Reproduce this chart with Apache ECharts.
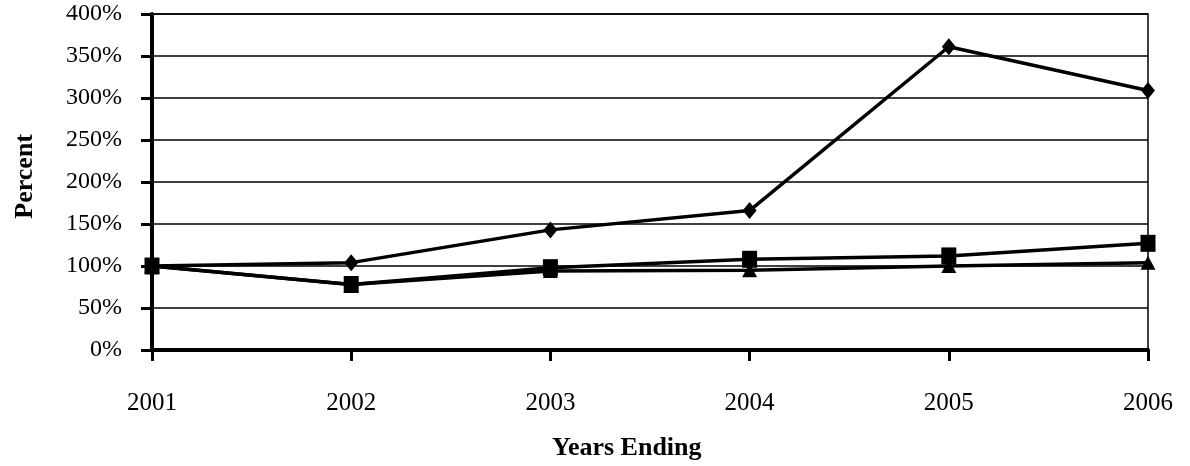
<!DOCTYPE html>
<html>
<head>
<meta charset="utf-8">
<script src="https://cdn.jsdelivr.net/npm/echarts@6/dist/echarts.min.js"></script>
<style>
html,body{margin:0;padding:0;background:#fff;}
#chart{width:1190px;height:466px;}
</style>
</head>
<body>
<div id="chart"></div>
<script>
var years = ['2001', '2002', '2003', '2004', '2005', '2006'];
var diamondSeries = [100, 104, 143, 166, 361, 309];
var squareSeries = [100, 78, 98, 108, 112, 127];
var triangleSeries = [100, 78, 94, 95, 100, 104];
var yTicks = [0, 50, 100, 150, 200, 250, 300, 350, 400];

var FONT = 'Liberation Serif';
var chart = echarts.init(document.getElementById('chart'), null, {renderer: 'canvas'});

function lineSeries(name, data, symbol, size, z) {
  return {
    name: name,
    type: 'line',
    data: data,
    symbol: symbol,
    symbolSize: size,
    z: z,
    lineStyle: {color: '#000', width: 3.5},
    itemStyle: {color: '#000', borderWidth: 0},
    emphasis: {disabled: true},
    animation: false
  };
}

chart.setOption({
  backgroundColor: '#fff',
  animation: false,
  grid: {left: 152, right: 42, top: 14, bottom: 116, show: true, borderColor: '#000', borderWidth: 1.5, backgroundColor: 'transparent'},
  xAxis: {
    type: 'category',
    data: years,
    boundaryGap: false,
    axisLine: {lineStyle: {color: '#000', width: 4}},
    axisTick: {show: true, alignWithLabel: true, length: 11, lineStyle: {color: '#000', width: 3}},
    axisLabel: {color: '#000', fontFamily: FONT, fontSize: 25, margin: 41},
    splitLine: {show: false}
  },
  yAxis: {
    type: 'value',
    min: yTicks[0],
    max: yTicks[yTicks.length - 1],
    interval: 50,
    axisLine: {show: true, lineStyle: {color: '#000', width: 4}},
    axisTick: {show: true, length: 11, lineStyle: {color: '#000', width: 3}},
    axisLabel: {color: '#000', fontFamily: FONT, fontSize: 24, margin: 30, formatter: '{value}%'},
    splitLine: {show: true, lineStyle: {color: '#000', width: 1.5}}
  },
  graphic: [
    {type: 'text', left: 12, top: 134, rotation: Math.PI / 2, z: 10,
     style: {text: 'Percent', font: 'bold 26px ' + FONT, fill: '#000'}},
    {type: 'text', left: 552, top: 435, z: 10,
     style: {text: 'Years Ending', font: 'bold 26px ' + FONT, fill: '#000'}}
  ],
  series: [
    lineSeries('Triangle', triangleSeries, 'triangle', [15, 14], 3),
    lineSeries('Square', squareSeries, 'rect', [15, 17], 4),
    lineSeries('Diamond', diamondSeries, 'diamond', [14, 17], 5)
  ]
});
</script>
</body>
</html>
